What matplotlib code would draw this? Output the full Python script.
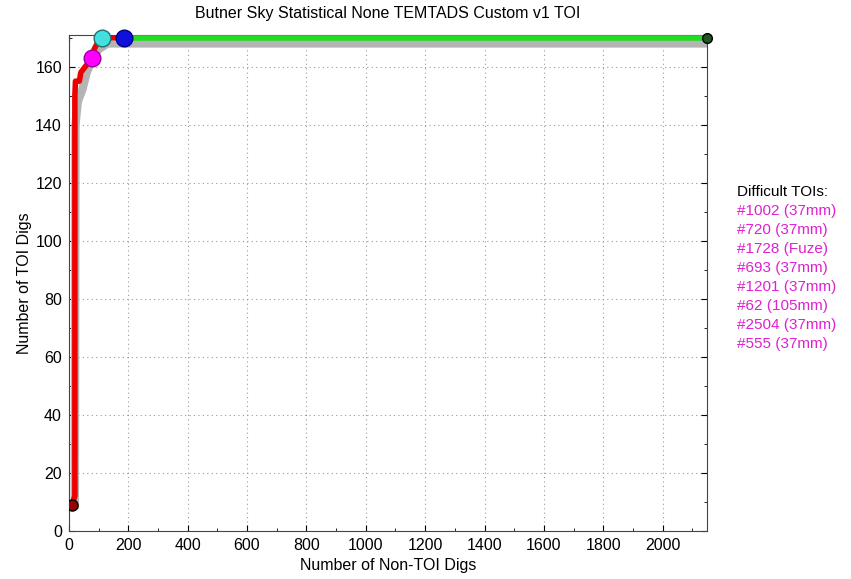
import matplotlib
matplotlib.use("Agg")
import matplotlib.pyplot as plt
from matplotlib.ticker import MultipleLocator

plt.rcParams['font.family'] = ['Liberation Sans', 'DejaVu Sans']

# red curve (TOI digs vs non-TOI digs)
red_x = [10, 20, 20, 22, 35, 40, 55, 70, 78, 85, 95, 105, 186]
red_y = [9, 12, 150, 155, 155, 158, 160, 162, 163, 166, 168, 170, 170]
# gray band curve
gray_x = [20, 22, 30, 45, 60, 80, 100, 130, 2150]
gray_y = [9, 140, 148, 152, 158, 163, 166, 168, 168]
# green tail
green_x = [186, 2150]
green_y = [170, 170]

# markers
start_pt = (10, 9)
magenta_pt = (78, 163)
cyan_pt = (111, 170)
blue_pt = (186, 170)
end_pt = (2150, 170)

title = "Butner Sky Statistical None TEMTADS Custom v1 TOI"
difficult = ["#1002 (37mm)", "#720 (37mm)", "#1728 (Fuze)", "#693 (37mm)",
             "#1201 (37mm)", "#62 (105mm)", "#2504 (37mm)", "#555 (37mm)"]

fig = plt.figure(figsize=(8.51, 5.79), dpi=100)
ax = fig.add_axes([0.081, 0.083, 0.750, 0.857])

ax.plot(gray_x, gray_y, color="#b4b4b4", lw=6, zorder=2)
ax.plot(green_x, green_y, color="#22dd22", lw=4, zorder=3)
ax.plot(red_x, red_y, color="#ee0000", lw=4, zorder=4)

ax.plot(*start_pt, "o", ms=8, mfc="#990000", mec="black", zorder=6)
ax.plot(*magenta_pt, "o", ms=12, mfc="#ff00ff", mec="#990099", zorder=6)
ax.plot(*cyan_pt, "o", ms=12, mfc="#44e0e0", mec="#207070", zorder=6, clip_on=False)
ax.plot(*blue_pt, "o", ms=12, mfc="#1010dd", mec="#000080", zorder=6, clip_on=False)
ax.plot(*end_pt, "o", ms=7, mfc="#225522", mec="black", zorder=6, clip_on=False)

ax.set_xlim(0, 2150)
ax.set_ylim(0, 171)
ax.xaxis.set_major_locator(MultipleLocator(200))
ax.xaxis.set_minor_locator(MultipleLocator(100))
ax.yaxis.set_major_locator(MultipleLocator(20))
ax.yaxis.set_minor_locator(MultipleLocator(10))
ax.tick_params(which="both", direction="in", top=True, right=True, labelsize=11.5, pad=5)
ax.tick_params(which="major", length=4)
ax.tick_params(which="minor", length=2)
ax.grid(True, which="major", ls=(0, (1, 3)), color="#999999", lw=0.8)
for s in ax.spines.values():
    s.set_color("#444444")

ax.set_title(title, fontsize=11.5, pad=12)
ax.set_xlabel("Number of Non-TOI Digs", fontsize=11.5, labelpad=4)
ax.set_ylabel("Number of TOI Digs", fontsize=11.5, labelpad=2)

fig.text(0.866, 0.668, "Difficult TOIs:", fontsize=11, color="black", va="center")
for i, t in enumerate(difficult):
    fig.text(0.866, 0.635 - i * 0.0328, t, fontsize=11, color="#e020d0", va="center")

fig.savefig("out.png", dpi=100)
